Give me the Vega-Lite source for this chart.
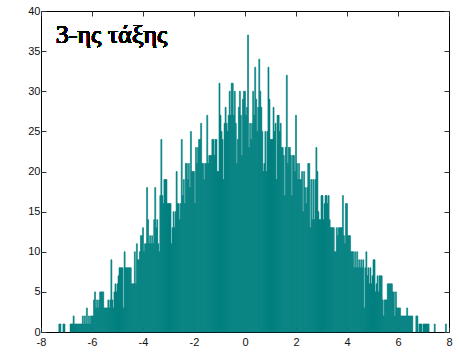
{
  "$schema": "https://vega.github.io/schema/vega-lite/v6.json",
  "width": 408,
  "height": 321,
  "autosize": {"type": "none"},
  "padding": {"left": 41, "top": 11, "right": 10, "bottom": 21},
  "background": "white",
  "config": {
    "view": {"stroke": "#000000", "strokeWidth": 1},
    "axis": {
      "grid": false,
      "domain": false,
      "tickColor": "#333333",
      "tickSize": -5,
      "labelFont": "Liberation Sans",
      "labelFontSize": 11,
      "labelColor": "#111111",
      "labelExpr": "'' + datum.value",
      "title": null
    }
  },
  "data": {
    "values": [
      {"b": -7.32, "c": 1}, {"b": -7.28, "c": 1}, {"b": -7.16, "c": 1}, {"b": -7.12, "c": 1},
      {"b": -6.88, "c": 1}, {"b": -6.84, "c": 1}, {"b": -6.80, "c": 1}, {"b": -6.76, "c": 2},
      {"b": -6.72, "c": 1}, {"b": -6.68, "c": 1}, {"b": -6.64, "c": 1}, {"b": -6.60, "c": 1},
      {"b": -6.56, "c": 1}, {"b": -6.52, "c": 1}, {"b": -6.48, "c": 1}, {"b": -6.44, "c": 1},
      {"b": -6.40, "c": 2}, {"b": -6.36, "c": 1}, {"b": -6.32, "c": 2}, {"b": -6.28, "c": 1},
      {"b": -6.24, "c": 3}, {"b": -6.20, "c": 1}, {"b": -6.16, "c": 2}, {"b": -6.12, "c": 1},
      {"b": -6.08, "c": 2}, {"b": -6.04, "c": 2}, {"b": -6.00, "c": 2}, {"b": -5.96, "c": 4},
      {"b": -5.92, "c": 5}, {"b": -5.88, "c": 3}, {"b": -5.84, "c": 4}, {"b": -5.80, "c": 3},
      {"b": -5.76, "c": 4}, {"b": -5.72, "c": 5}, {"b": -5.68, "c": 5}, {"b": -5.64, "c": 5},
      {"b": -5.60, "c": 5}, {"b": -5.56, "c": 3}, {"b": -5.52, "c": 3}, {"b": -5.48, "c": 3},
      {"b": -5.44, "c": 3}, {"b": -5.40, "c": 4}, {"b": -5.36, "c": 3}, {"b": -5.32, "c": 4},
      {"b": -5.28, "c": 9}, {"b": -5.24, "c": 4}, {"b": -5.20, "c": 3}, {"b": -5.16, "c": 5},
      {"b": -5.12, "c": 6}, {"b": -5.08, "c": 5}, {"b": -5.04, "c": 6}, {"b": -5.00, "c": 7},
      {"b": -4.96, "c": 8}, {"b": -4.92, "c": 8}, {"b": -4.88, "c": 8}, {"b": -4.84, "c": 8},
      {"b": -4.80, "c": 3}, {"b": -4.76, "c": 10}, {"b": -4.72, "c": 8}, {"b": -4.68, "c": 8},
      {"b": -4.64, "c": 8}, {"b": -4.60, "c": 8}, {"b": -4.56, "c": 8}, {"b": -4.52, "c": 8},
      {"b": -4.48, "c": 6}, {"b": -4.44, "c": 6}, {"b": -4.40, "c": 6}, {"b": -4.36, "c": 10},
      {"b": -4.32, "c": 6}, {"b": -4.28, "c": 11}, {"b": -4.24, "c": 9}, {"b": -4.20, "c": 9},
      {"b": -4.16, "c": 10}, {"b": -4.12, "c": 12}, {"b": -4.08, "c": 12}, {"b": -4.04, "c": 13},
      {"b": -4.00, "c": 10}, {"b": -3.96, "c": 11}, {"b": -3.92, "c": 11}, {"b": -3.88, "c": 18},
      {"b": -3.84, "c": 14}, {"b": -3.80, "c": 11}, {"b": -3.76, "c": 12}, {"b": -3.72, "c": 11},
      {"b": -3.68, "c": 12}, {"b": -3.64, "c": 11}, {"b": -3.60, "c": 14}, {"b": -3.56, "c": 18},
      {"b": -3.52, "c": 13}, {"b": -3.48, "c": 14}, {"b": -3.44, "c": 11}, {"b": -3.40, "c": 10},
      {"b": -3.36, "c": 17}, {"b": -3.32, "c": 24}, {"b": -3.28, "c": 17}, {"b": -3.24, "c": 16},
      {"b": -3.20, "c": 19}, {"b": -3.16, "c": 19}, {"b": -3.12, "c": 19}, {"b": -3.08, "c": 16},
      {"b": -3.04, "c": 16}, {"b": -3.00, "c": 16}, {"b": -2.96, "c": 16}, {"b": -2.92, "c": 11},
      {"b": -2.88, "c": 13}, {"b": -2.84, "c": 15}, {"b": -2.80, "c": 13}, {"b": -2.76, "c": 15},
      {"b": -2.72, "c": 20}, {"b": -2.68, "c": 16}, {"b": -2.64, "c": 16}, {"b": -2.60, "c": 14},
      {"b": -2.56, "c": 16}, {"b": -2.52, "c": 24}, {"b": -2.48, "c": 17}, {"b": -2.44, "c": 19},
      {"b": -2.40, "c": 16}, {"b": -2.36, "c": 21}, {"b": -2.32, "c": 21}, {"b": -2.28, "c": 19},
      {"b": -2.24, "c": 21}, {"b": -2.20, "c": 18}, {"b": -2.16, "c": 25}, {"b": -2.12, "c": 20},
      {"b": -2.08, "c": 20}, {"b": -2.04, "c": 20}, {"b": -2.00, "c": 16}, {"b": -1.96, "c": 23},
      {"b": -1.92, "c": 21}, {"b": -1.88, "c": 23}, {"b": -1.84, "c": 24}, {"b": -1.80, "c": 24},
      {"b": -1.76, "c": 26}, {"b": -1.72, "c": 21}, {"b": -1.68, "c": 21}, {"b": -1.64, "c": 19},
      {"b": -1.60, "c": 21}, {"b": -1.56, "c": 21}, {"b": -1.52, "c": 27}, {"b": -1.48, "c": 21},
      {"b": -1.44, "c": 22}, {"b": -1.40, "c": 22}, {"b": -1.36, "c": 22}, {"b": -1.32, "c": 24},
      {"b": -1.28, "c": 24}, {"b": -1.24, "c": 22}, {"b": -1.20, "c": 24}, {"b": -1.16, "c": 24},
      {"b": -1.12, "c": 20}, {"b": -1.08, "c": 20}, {"b": -1.04, "c": 31}, {"b": -1.00, "c": 27},
      {"b": -0.96, "c": 25}, {"b": -0.92, "c": 24}, {"b": -0.88, "c": 19}, {"b": -0.84, "c": 26},
      {"b": -0.80, "c": 28}, {"b": -0.76, "c": 26}, {"b": -0.72, "c": 25}, {"b": -0.68, "c": 27},
      {"b": -0.64, "c": 30}, {"b": -0.60, "c": 27}, {"b": -0.56, "c": 31}, {"b": -0.52, "c": 31},
      {"b": -0.48, "c": 27}, {"b": -0.44, "c": 30}, {"b": -0.40, "c": 26}, {"b": -0.36, "c": 21},
      {"b": -0.32, "c": 24}, {"b": -0.28, "c": 28}, {"b": -0.24, "c": 30}, {"b": -0.20, "c": 27},
      {"b": -0.16, "c": 22}, {"b": -0.12, "c": 29}, {"b": -0.08, "c": 30}, {"b": -0.04, "c": 30},
      {"b": 0.00, "c": 27}, {"b": 0.04, "c": 28}, {"b": 0.08, "c": 37}, {"b": 0.12, "c": 23},
      {"b": 0.16, "c": 26}, {"b": 0.20, "c": 24}, {"b": 0.24, "c": 26}, {"b": 0.28, "c": 30},
      {"b": 0.32, "c": 27}, {"b": 0.36, "c": 33}, {"b": 0.40, "c": 29}, {"b": 0.44, "c": 25},
      {"b": 0.48, "c": 28}, {"b": 0.52, "c": 34}, {"b": 0.56, "c": 30}, {"b": 0.60, "c": 28},
      {"b": 0.64, "c": 25}, {"b": 0.68, "c": 20}, {"b": 0.72, "c": 21}, {"b": 0.76, "c": 25},
      {"b": 0.80, "c": 20}, {"b": 0.84, "c": 25}, {"b": 0.88, "c": 33}, {"b": 0.92, "c": 29},
      {"b": 0.96, "c": 24}, {"b": 1.00, "c": 24}, {"b": 1.04, "c": 24}, {"b": 1.08, "c": 28},
      {"b": 1.12, "c": 25}, {"b": 1.16, "c": 26}, {"b": 1.20, "c": 19}, {"b": 1.24, "c": 27},
      {"b": 1.28, "c": 27}, {"b": 1.32, "c": 25}, {"b": 1.36, "c": 26}, {"b": 1.40, "c": 23},
      {"b": 1.44, "c": 23}, {"b": 1.48, "c": 22}, {"b": 1.52, "c": 17}, {"b": 1.56, "c": 23},
      {"b": 1.60, "c": 32}, {"b": 1.64, "c": 21}, {"b": 1.68, "c": 23}, {"b": 1.72, "c": 23},
      {"b": 1.76, "c": 22}, {"b": 1.80, "c": 17}, {"b": 1.84, "c": 22}, {"b": 1.88, "c": 22},
      {"b": 1.92, "c": 20}, {"b": 1.96, "c": 27}, {"b": 2.00, "c": 21}, {"b": 2.04, "c": 19},
      {"b": 2.08, "c": 21}, {"b": 2.12, "c": 19}, {"b": 2.16, "c": 19}, {"b": 2.20, "c": 20},
      {"b": 2.24, "c": 15}, {"b": 2.28, "c": 20}, {"b": 2.32, "c": 18}, {"b": 2.36, "c": 16},
      {"b": 2.40, "c": 18}, {"b": 2.44, "c": 21}, {"b": 2.48, "c": 21}, {"b": 2.52, "c": 13},
      {"b": 2.56, "c": 19}, {"b": 2.60, "c": 14}, {"b": 2.64, "c": 19}, {"b": 2.68, "c": 14},
      {"b": 2.72, "c": 19}, {"b": 2.76, "c": 23}, {"b": 2.80, "c": 20}, {"b": 2.84, "c": 15},
      {"b": 2.88, "c": 14}, {"b": 2.92, "c": 14}, {"b": 2.96, "c": 17}, {"b": 3.00, "c": 17},
      {"b": 3.04, "c": 14}, {"b": 3.08, "c": 16}, {"b": 3.12, "c": 17}, {"b": 3.16, "c": 17},
      {"b": 3.20, "c": 16}, {"b": 3.24, "c": 17}, {"b": 3.28, "c": 14}, {"b": 3.32, "c": 13},
      {"b": 3.36, "c": 13}, {"b": 3.40, "c": 13}, {"b": 3.44, "c": 13}, {"b": 3.48, "c": 10},
      {"b": 3.52, "c": 10}, {"b": 3.56, "c": 13}, {"b": 3.60, "c": 12}, {"b": 3.64, "c": 13},
      {"b": 3.68, "c": 13}, {"b": 3.72, "c": 13}, {"b": 3.76, "c": 13}, {"b": 3.80, "c": 17},
      {"b": 3.84, "c": 12}, {"b": 3.88, "c": 11}, {"b": 3.92, "c": 16}, {"b": 3.96, "c": 16},
      {"b": 4.00, "c": 12}, {"b": 4.04, "c": 12}, {"b": 4.08, "c": 12}, {"b": 4.12, "c": 10},
      {"b": 4.16, "c": 10}, {"b": 4.20, "c": 10}, {"b": 4.24, "c": 8}, {"b": 4.28, "c": 10},
      {"b": 4.32, "c": 8}, {"b": 4.36, "c": 10}, {"b": 4.40, "c": 8}, {"b": 4.44, "c": 9},
      {"b": 4.48, "c": 8}, {"b": 4.52, "c": 9}, {"b": 4.56, "c": 8}, {"b": 4.60, "c": 9},
      {"b": 4.64, "c": 3}, {"b": 4.68, "c": 8}, {"b": 4.72, "c": 10}, {"b": 4.76, "c": 7},
      {"b": 4.80, "c": 8}, {"b": 4.84, "c": 6}, {"b": 4.88, "c": 8}, {"b": 4.92, "c": 6},
      {"b": 4.96, "c": 7}, {"b": 5.00, "c": 9}, {"b": 5.04, "c": 9}, {"b": 5.08, "c": 5},
      {"b": 5.12, "c": 6}, {"b": 5.16, "c": 7}, {"b": 5.20, "c": 5}, {"b": 5.24, "c": 7},
      {"b": 5.28, "c": 7}, {"b": 5.32, "c": 7}, {"b": 5.36, "c": 4}, {"b": 5.40, "c": 2},
      {"b": 5.44, "c": 4}, {"b": 5.48, "c": 4}, {"b": 5.52, "c": 4}, {"b": 5.56, "c": 6},
      {"b": 5.60, "c": 6}, {"b": 5.64, "c": 6}, {"b": 5.68, "c": 6}, {"b": 5.72, "c": 6},
      {"b": 5.76, "c": 5}, {"b": 5.80, "c": 5}, {"b": 5.84, "c": 2}, {"b": 5.88, "c": 5},
      {"b": 5.92, "c": 3}, {"b": 5.96, "c": 3}, {"b": 6.00, "c": 3}, {"b": 6.04, "c": 3},
      {"b": 6.08, "c": 2}, {"b": 6.12, "c": 2}, {"b": 6.16, "c": 2}, {"b": 6.20, "c": 2},
      {"b": 6.24, "c": 2}, {"b": 6.28, "c": 2}, {"b": 6.32, "c": 3}, {"b": 6.36, "c": 2},
      {"b": 6.40, "c": 2}, {"b": 6.44, "c": 2}, {"b": 6.48, "c": 2}, {"b": 6.52, "c": 2},
      {"b": 6.68, "c": 2}, {"b": 6.72, "c": 2}, {"b": 6.80, "c": 1}, {"b": 6.84, "c": 1},
      {"b": 6.88, "c": 1}, {"b": 6.96, "c": 1}, {"b": 7.00, "c": 1}, {"b": 7.04, "c": 1},
      {"b": 7.08, "c": 1}, {"b": 7.12, "c": 1}, {"b": 7.16, "c": 1}, {"b": 7.40, "c": 1},
      {"b": 7.84, "c": 1}
    ]
  },
  "layer": [
    {
      "mark": {"type": "bar", "fill": "#008080", "stroke": "#008080", "strokeWidth": 0.6, "binSpacing": 0},
      "encoding": {
        "x": {
          "field": "b",
          "type": "quantitative",
          "bin": {"binned": true, "step": 0.04},
          "scale": {"domain": [-8, 8], "nice": false, "zero": false},
          "axis": {"orient": "bottom", "values": [-8, -6, -4, -2, 0, 2, 4, 6, 8], "labelPadding": 9, "labelFlush": false}
        },
        "y": {
          "field": "c",
          "type": "quantitative",
          "scale": {"domain": [0, 40], "nice": false},
          "axis": {"orient": "left", "values": [0, 5, 10, 15, 20, 25, 30, 35, 40], "labelPadding": 6}
        }
      }
    },
    {
      "mark": {"type": "text", "text": "3-ης τάξης", "font": "Liberation Serif", "fontSize": 26, "fontWeight": 300, "align": "left", "baseline": "alphabetic", "color": "#000000"},
      "encoding": {
        "x": {"datum": -7.42, "type": "quantitative", "axis": {"orient": "top", "labels": false, "values": [-8, -6, -4, -2, 0, 2, 4, 6, 8]}},
        "y": {"datum": 36, "type": "quantitative", "axis": {"orient": "right", "labels": false, "values": [0, 5, 10, 15, 20, 25, 30, 35, 40]}}
      }
    }
  ],
  "resolve": {"axis": {"x": "independent", "y": "independent"}}
}
